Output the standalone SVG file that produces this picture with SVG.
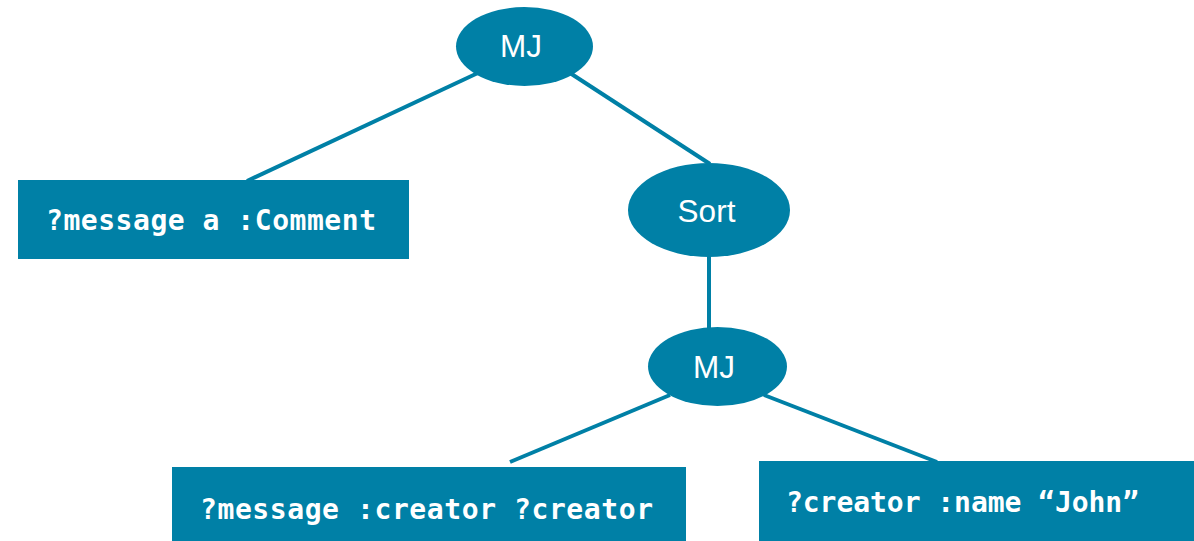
<svg xmlns="http://www.w3.org/2000/svg" width="1194" height="541" viewBox="0 0 1194 541">
<style>
.fill{fill:#0080A6}
.edge{stroke:#0080A6;stroke-width:4;fill:none}
.op{font-family:"Liberation Sans",Arial,sans-serif;font-size:31.5px;fill:#fff;text-anchor:middle}
.tp{font-family:"DejaVu Sans Mono","Liberation Mono",monospace;font-weight:bold;font-size:28px;fill:#fff}
</style>
<rect width="1194" height="541" fill="#fff"/>
<g id="connectors">
<line class="edge" x1="480" y1="72" x2="247" y2="181"/>
<line class="edge" x1="570" y1="73" x2="710" y2="164"/>
<line class="edge" x1="709" y1="255" x2="709" y2="329"/>
<line class="edge" x1="670" y1="395" x2="510" y2="462"/>
<line class="edge" x1="764" y1="395" x2="937" y2="462"/>
</g>
<g id="mj-top">
<ellipse class="fill" cx="524.5" cy="46.5" rx="68.5" ry="39.5"/>
<text class="op" x="521" y="57">MJ</text>
</g>
<g id="sort">
<ellipse class="fill" cx="709" cy="210" rx="81" ry="47"/>
<text class="op" x="706.5" y="221.5">Sort</text>
</g>
<g id="mj-bottom">
<ellipse class="fill" cx="717.5" cy="366.5" rx="69.5" ry="39.5"/>
<text class="op" x="714" y="378">MJ</text>
</g>
<g id="tp-comment">
<rect class="fill" x="18" y="180" width="391" height="79"/>
<text class="tp" x="46" y="230" textLength="330">?message a :Comment</text>
</g>
<g id="tp-creator">
<rect class="fill" x="172" y="467" width="514" height="80"/>
<text class="tp" x="200" y="519" textLength="453">?message :creator ?creator</text>
</g>
<g id="tp-name">
<rect class="fill" x="759" y="461" width="440" height="86"/>
<text class="tp" x="786" y="512" textLength="353">?creator :name “John”</text>
</g>
</svg>
